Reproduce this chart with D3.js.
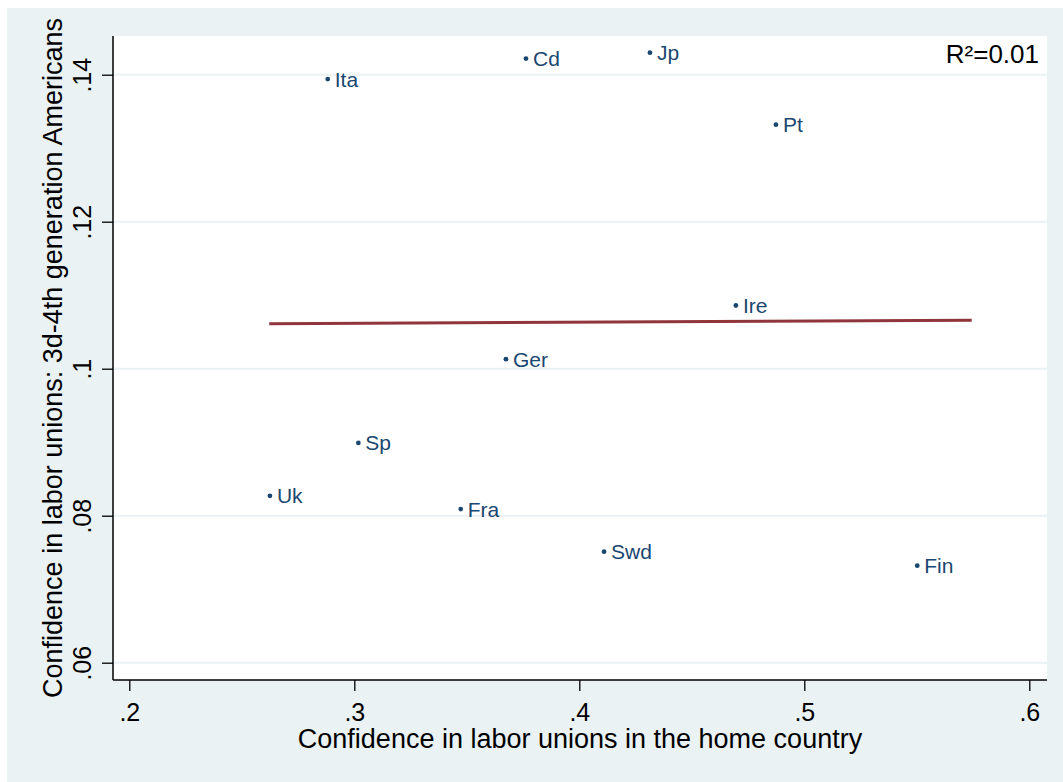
<!DOCTYPE html>
<html>
<head>
<meta charset="utf-8">
<script src="https://cdn.jsdelivr.net/npm/d3@7"></script>
<style>
  html, body { margin: 0; padding: 0; background: #ffffff; }
  svg { display: block; }
  text { font-family: "Liberation Sans", Arial, Helvetica, sans-serif; }
</style>
</head>
<body>
<script>
// ---- data ----
const countries = ["Ita", "Cd", "Jp", "Pt", "Ire", "Ger", "Sp", "Uk", "Fra", "Swd", "Fin"];
const homeConfidence = [0.2882, 0.3763, 0.4314, 0.4874, 0.4696, 0.3674, 0.3018, 0.2625, 0.3473, 0.4110, 0.5502];
const usConfidence = [0.1394, 0.1422, 0.1430, 0.1332, 0.1086, 0.1013, 0.0899, 0.0827, 0.0809, 0.0751, 0.0732];
const fitX = [0.2622, 0.5744];
const fitY = [0.1061, 0.1066];
const xTicks = [0.2, 0.3, 0.4, 0.5, 0.6];
const yTicks = [0.06, 0.08, 0.10, 0.12, 0.14];
const xTickLabels = [".2", ".3", ".4", ".5", ".6"];
const yTickLabels = [".06", ".08", ".1", ".12", ".14"];
const xTitle = "Confidence in labor unions in the home country";
const yTitle = "Confidence in labor unions: 3d-4th generation Americans";
const r2Label = "R²=0.01";

// ---- layout ----
const W = 1063, H = 782;
const plot = { left: 113, top: 36, right: 1047, bottom: 680 };
const navy = "#1A476F", maroon = "#90353B", bg = "#EAF2F3";

const svg = d3.select("body").append("svg").attr("width", W).attr("height", H);

svg.append("rect").attr("x", 7).attr("y", 8).attr("width", W - 7).attr("height", H - 8).attr("fill", bg);
svg.append("rect").attr("x", plot.left).attr("y", plot.top)
  .attr("width", plot.right - plot.left).attr("height", plot.bottom - plot.top).attr("fill", "#ffffff");

const x = d3.scaleLinear().domain([0.2, 0.6]).range([129.3, 1029.3]);
const y = d3.scaleLinear().domain([0.06, 0.14]).range([662.7, 74.7]);

// gridlines
svg.append("g").selectAll("line").data(yTicks).join("line")
  .attr("x1", plot.left).attr("x2", plot.right)
  .attr("y1", d => y(d)).attr("y2", d => y(d))
  .attr("stroke", bg).attr("stroke-width", 2);

// axes
const yAxis = d3.axisLeft(y).tickValues(yTicks).tickFormat((d, i) => yTickLabels[i]).tickSize(11).tickPadding(11);
const gy = svg.append("g").attr("transform", `translate(${plot.left},0)`).call(yAxis);
gy.select(".domain").remove();
gy.selectAll(".tick line").attr("stroke", "#000").attr("stroke-width", 1.3);
gy.selectAll(".tick text")
  .attr("x", null).attr("dy", null)
  .attr("transform", "translate(-22,0) rotate(-90)")
  .attr("text-anchor", "middle")
  .attr("font-size", 25).attr("fill", "#000");

const xAxis = d3.axisBottom(x).tickValues(xTicks).tickFormat((d, i) => xTickLabels[i]).tickSize(11).tickPadding(11);
const gx = svg.append("g").attr("transform", `translate(0,${plot.bottom})`).call(xAxis);
gx.select(".domain").remove();
gx.selectAll(".tick line").attr("stroke", "#000").attr("stroke-width", 1.3);
gx.selectAll(".tick text").attr("dy", null).attr("y", 40.5)
  .attr("font-size", 25).attr("fill", "#000");

// axis lines
svg.append("line").attr("x1", plot.left).attr("x2", plot.left).attr("y1", plot.top).attr("y2", plot.bottom)
  .attr("stroke", "#000").attr("stroke-width", 1.5);
svg.append("line").attr("x1", plot.left).attr("x2", plot.right).attr("y1", plot.bottom).attr("y2", plot.bottom)
  .attr("stroke", "#000").attr("stroke-width", 1.5);

// fit line
const fitData = fitX.map((v, i) => [v, fitY[i]]);
svg.append("path").datum(fitData)
  .attr("d", d3.line().x(d => x(d[0])).y(d => y(d[1])))
  .attr("fill", "none").attr("stroke", maroon).attr("stroke-width", 3);

// points
const pts = countries.map((c, i) => ({ c, hx: homeConfidence[i], uy: usConfidence[i] }));
svg.append("g").selectAll("circle").data(pts).join("circle")
  .attr("cx", d => x(d.hx)).attr("cy", d => y(d.uy)).attr("r", 2.4)
  .attr("fill", navy);
svg.append("g").selectAll("text").data(pts).join("text")
  .attr("x", d => x(d.hx) + 7).attr("y", d => y(d.uy) + 7.5)
  .attr("font-size", 21).attr("fill", navy).text(d => d.c);

// R2
svg.append("text").attr("x", 1039).attr("y", 63).attr("text-anchor", "end")
  .attr("font-size", 26).attr("fill", "#000").text(r2Label);

// titles
svg.append("text").attr("x", (plot.left + plot.right) / 2).attr("y", 748)
  .attr("text-anchor", "middle").attr("font-size", 27).attr("fill", "#000").text(xTitle);
svg.append("text").attr("transform", `translate(62,${(plot.top + plot.bottom) / 2}) rotate(-90)`)
  .attr("text-anchor", "middle").attr("font-size", 27).attr("fill", "#000").text(yTitle);
</script>
</body>
</html>
